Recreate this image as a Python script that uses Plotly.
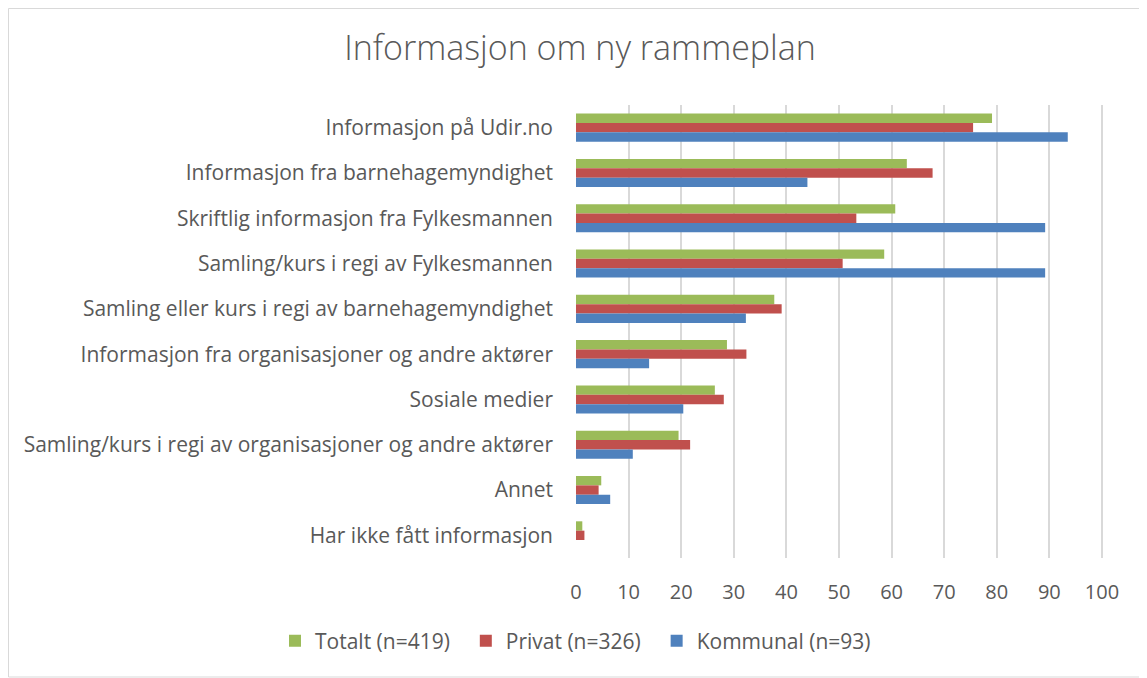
import plotly.graph_objects as go

categories = [
    "Informasjon på Udir.no",
    "Informasjon fra barnehagemyndighet",
    "Skriftlig informasjon fra Fylkesmannen",
    "Samling/kurs i regi av Fylkesmannen",
    "Samling eller kurs i regi av barnehagemyndighet",
    "Informasjon fra organisasjoner og andre aktører",
    "Sosiale medier",
    "Samling/kurs i regi av organisasjoner og andre aktører",
    "Annet",
    "Har ikke fått informasjon",
]
totalt = [79.1, 62.9, 60.7, 58.6, 37.7, 28.7, 26.4, 19.5, 4.8, 1.2]
privat = [75.5, 67.8, 53.3, 50.7, 39.1, 32.4, 28.1, 21.7, 4.3, 1.6]
kommunal = [93.5, 44.0, 89.2, 89.2, 32.3, 13.9, 20.4, 10.8, 6.5, 0.0]
tick_vals = [0, 10, 20, 30, 40, 50, 60, 70, 80, 90, 100]

series_names = ["Totalt (n=419)", "Privat (n=326)", "Kommunal (n=93)"]
series_values = [totalt, privat, kommunal]
series_colors = ["#9BBB59", "#C0504D", "#4F81BD"]
# extra legend spacing after the first two entries
legend_pad = ["\u00a0\u00a0", "\u00a0\u00a0", ""]

# page has an 8px body margin; lay out in figure coordinates
OFF = 8
W, H = 1147 - OFF, 678 - OFF
L, T = 576 - OFF, 105 - OFF
R = W - (1103 - OFF)
B = H - (558 - OFF)
pw = W - L - R
ph = H - T - B

fig = go.Figure()
for name, vals, col, pad in zip(series_names, series_values, series_colors, legend_pad):
    fig.add_trace(go.Bar(
        y=categories, x=vals, name=name + pad, orientation="h",
        marker=dict(color=col, line=dict(width=0)),
    ))

fig.add_shape(type="rect", xref="paper", yref="paper",
              x0=(0.5 - L) / pw, x1=(W - 4 - L) / pw,
              y0=(H - B - (H - 1)) / ph, y1=(H - B - 0.5) / ph,
              line=dict(color="#D9D9D9", width=1), fillcolor="rgba(0,0,0,0)", layer="below")

fig.update_layout(
    width=W, height=H,
    margin=dict(l=L, r=R, t=T, b=B, autoexpand=False),
    paper_bgcolor="white", plot_bgcolor="white",
    barmode="group", bargap=0.38, bargroupgap=0,
    font=dict(family="Open Sans", color="#595959"),
    title=dict(text="Informasjon om ny rammeplan", x=(580 - OFF) / W, xref="container",
               xanchor="center", y=1 - (48 - OFF) / H, yanchor="middle",
               font=dict(size=34, color="#595959", family="Open Sans", weight=300)),
    xaxis=dict(range=[0, 100.2], tickvals=tick_vals, showgrid=True,
               gridcolor="#D9D9D9", gridwidth=1.5, zeroline=False,
               showline=False, ticks="", ticklabelstandoff=20, automargin=False,
               tickfont=dict(size=20, color="#595959")),
    yaxis=dict(autorange="reversed", showgrid=False, showline=False, ticks="",
               ticklabelstandoff=22, automargin=False,
               tickfont=dict(size=21, color="#595959")),
    legend=dict(orientation="h", xref="paper", yref="paper",
                x=(275 - OFF - L) / pw, xanchor="left",
                y=-((641 - OFF) - (T + ph)) / ph, yanchor="middle",
                font=dict(size=21, color="#595959"), traceorder="normal"),
    showlegend=True,
)

fig.write_html("out.html")
